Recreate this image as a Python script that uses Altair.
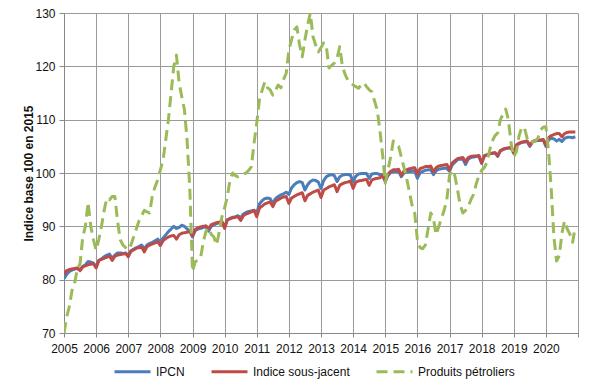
import altair as alt
import pandas as pd

# ---- data (monthly, Jan 2005 .. Dec 2020) ----
series_names = ["IPCN", "Indice sous-jacent", "Produits pétroliers"]
series_colors = ["#4A7EBB", "#BE4B48", "#9BBB59"]
year_ticks = list(range(2005, 2022))
y_ticks = [70, 80, 90, 100, 110, 120, 130]

ipcn = [
    80.2, 81.0, 81.5, 81.8, 82.0, 82.1, 81.8, 82.5, 82.8, 83.4, 83.3, 83.1,  # 2005
    82.4, 83.6, 83.9, 84.3, 84.6, 84.8, 84.0, 84.6, 85.0, 85.0, 84.9, 85.0,  # 2006
    84.6, 85.4, 85.7, 86.0, 86.2, 86.5, 85.8, 86.5, 86.8, 87.0, 87.3, 87.6,  # 2007
    87.1, 87.8, 88.4, 89.0, 89.5, 90.0, 89.6, 89.8, 90.2, 90.0, 89.5, 89.1,  # 2008
    88.0, 89.2, 89.5, 89.6, 89.8, 89.9, 89.1, 90.0, 90.3, 90.5, 90.7, 90.8,  # 2009
    90.0, 91.2, 91.5, 91.7, 91.8, 92.0, 91.6, 92.3, 92.6, 92.8, 92.9, 93.0,  # 2010
    92.5, 94.2, 94.8, 95.2, 95.3, 95.2, 94.3, 95.2, 95.6, 95.9, 96.1, 96.4,  # 2011
    96.0, 97.2, 97.8, 98.2, 98.4, 98.2, 96.8, 97.8, 98.4, 98.7, 98.6, 98.3,  # 2012
    97.1, 98.6, 99.3, 99.6, 99.7, 99.5, 98.4, 99.3, 99.6, 99.7, 99.7, 99.6,  # 2013
    98.4, 99.4, 99.8, 99.9, 99.9, 99.9, 99.0, 99.8, 99.9, 99.9, 99.7, 99.6,  # 2014
    98.4, 99.5, 100.1, 100.3, 100.3, 100.3, 99.3, 100.0, 100.2, 100.3, 100.3, 100.4,  # 2015
    99.0, 100.0, 100.3, 100.5, 100.6, 100.6, 99.7, 100.4, 100.7, 100.8, 100.9, 100.9,  # 2016
    100.3, 101.5, 102.0, 102.5, 102.6, 102.6, 101.6, 102.6, 102.9, 103.0, 103.1, 103.1,  # 2017
    101.8, 103.2, 103.4, 103.6, 103.7, 103.8, 103.1, 104.1, 104.4, 104.6, 104.7, 104.7,  # 2018
    103.7, 105.2, 105.5, 105.7, 105.8, 105.9, 105.0, 105.8, 106.0, 106.1, 106.1, 106.2,  # 2019
    105.0, 106.2, 106.5, 106.4, 106.0, 106.3, 105.9, 106.5, 106.7, 106.7, 106.6, 106.8,  # 2020
]

sous_jacent = [
    81.0, 81.7, 81.9, 82.0, 82.1, 82.2, 81.7, 82.4, 82.6, 82.8, 82.9, 83.0,  # 2005
    82.2, 83.6, 83.8, 84.0, 84.2, 84.4, 83.6, 84.4, 84.6, 84.7, 84.8, 84.9,  # 2006
    84.3, 85.3, 85.6, 85.9, 86.0, 86.1, 85.2, 86.2, 86.5, 86.7, 86.9, 87.1,  # 2007
    86.4, 87.3, 87.7, 88.0, 88.2, 88.3, 87.6, 88.4, 88.7, 88.8, 88.9, 89.0,  # 2008
    88.2, 89.4, 89.7, 89.9, 90.0, 90.1, 89.6, 90.3, 90.5, 90.7, 90.8, 90.9,  # 2009
    89.6, 91.2, 91.4, 91.6, 91.7, 91.8, 91.1, 92.0, 92.3, 92.5, 92.7, 93.0,  # 2010
    91.8, 93.4, 93.8, 94.2, 94.4, 94.6, 93.7, 94.7, 95.0, 95.3, 95.5, 95.6,  # 2011
    94.3, 95.3, 95.6, 95.9, 96.1, 96.3, 94.8, 95.8, 96.1, 96.4, 96.6, 96.8,  # 2012
    95.4, 96.8, 97.1, 97.4, 97.6, 97.8, 96.5, 97.7, 98.0, 98.2, 98.3, 98.5,  # 2013
    97.1, 98.3, 98.5, 98.6, 98.7, 98.8, 97.7, 98.7, 98.9, 99.0, 99.1, 99.5,  # 2014
    98.6, 99.8, 100.3, 100.6, 100.6, 100.7, 99.5, 100.4, 100.6, 100.8, 100.9, 101.0,  # 2015
    99.8, 100.8, 101.0, 101.2, 101.2, 101.3, 100.2, 101.0, 101.3, 101.4, 101.5, 101.6,  # 2016
    100.6, 101.9, 102.3, 102.7, 102.8, 102.9, 102.1, 102.9, 103.1, 103.2, 103.2, 103.3,  # 2017
    101.9, 103.2, 103.4, 103.6, 103.7, 103.8, 103.3, 104.2, 104.5, 104.6, 104.7, 104.8,  # 2018
    103.8, 105.3, 105.6, 105.8, 105.9, 106.0, 105.2, 105.9, 106.1, 106.2, 106.2, 106.3,  # 2019
    105.3, 106.6, 107.0, 107.2, 107.4, 107.4, 106.8, 107.4, 107.6, 107.7, 107.7, 107.7,  # 2020
]

petroliers = [
    70.0, 73.0, 75.0, 78.0, 79.5, 82.0, 83.0, 88.0, 90.0, 94.5, 90.0, 87.5,  # 2005
    85.5, 87.5, 90.0, 93.0, 95.3, 95.0, 95.6, 95.6, 91.0, 87.5, 86.5, 86.0,  # 2006
    85.6, 86.5, 88.0, 89.5, 91.0, 92.0, 93.0, 92.7, 92.5, 95.8, 97.4, 98.7,  # 2007
    100.6, 102.4, 106.2, 110.0, 115.0, 120.0, 122.1, 116.9, 114.3, 111.8, 106.0, 97.0,  # 2008
    81.5, 83.4, 83.6, 84.0, 87.0, 89.0, 89.7, 88.5, 88.0, 86.5, 89.0, 91.8,  # 2009
    93.5, 95.5, 98.7, 100.0, 99.5, 99.3, 99.6, 99.8, 100.0, 100.5, 101.2, 105.6,  # 2010
    109.4, 113.7, 115.5, 117.1, 116.0, 115.6, 114.6, 115.5, 116.5, 116.0, 117.5, 118.7,  # 2011
    123.0, 125.0, 126.8, 127.4, 124.0, 121.8, 125.0, 127.7, 130.0, 125.6, 124.0, 122.7,  # 2012
    123.5, 124.4, 123.7, 119.7, 120.2, 120.6, 121.5, 123.7, 120.0, 118.5, 117.4, 117.0,  # 2013
    116.5, 116.2, 115.9, 116.5, 116.9, 116.2, 115.6, 115.2, 113.5, 111.8, 108.0, 103.5,  # 2014
    98.1, 100.5, 103.0, 106.0, 105.5, 105.0, 103.0, 101.0, 99.0, 96.5, 94.0, 92.5,  # 2015
    87.5, 86.0, 85.8, 86.5, 89.5, 92.5, 91.5, 88.4, 90.0, 91.5, 93.0, 95.0,  # 2016
    99.5, 100.5, 99.5, 96.8, 94.0, 92.5, 93.0, 93.7, 95.0, 96.0, 98.0, 99.5,  # 2017
    100.5, 101.0, 102.0, 104.3, 106.0, 107.0, 107.5, 110.0, 111.0, 112.0, 110.0, 105.6,  # 2018
    103.0, 104.0, 107.0, 108.6, 108.5, 106.5, 105.6, 105.8, 106.0, 106.5, 108.0, 108.6,  # 2019
    108.7, 104.0, 97.0, 88.0, 83.5, 84.5, 88.7, 91.0, 89.5, 88.5, 87.0, 90.0,  # 2020
]

rows = []
for name, vals in zip(series_names, [ipcn, sous_jacent, petroliers]):
    for i, v in enumerate(vals):
        rows.append({"t": 2005 + i / 12.0, "v": v, "serie": name})
df = pd.DataFrame(rows)

FONT = "Liberation Sans"
GRID = "#9a9a9a"

x_enc = alt.X(
    "t:Q",
    scale=alt.Scale(domain=[2005, 2021], nice=False, zero=False),
    axis=alt.Axis(
        values=year_ticks, format="d",
        labelExpr="datum.value >= 2021 ? '' : datum.label",
        title=None, grid=True, gridColor=GRID, gridWidth=1,
        domainColor="#888888", tickColor="#888888", tickSize=4,
        labelPadding=6, labelFontSize=12, labelFont=FONT, labelColor="#111111",
        labelFlush=False, labelOverlap=False,
    ),
)
y_enc = alt.Y(
    "v:Q",
    scale=alt.Scale(domain=[70, 130], nice=False, zero=False),
    axis=alt.Axis(
        values=y_ticks, title="Indice  base 100 en 2015",
        titleFontWeight="bold", titleFontSize=12, titleFont=FONT, titleColor="#111111",
        titleX=-36, titleY=160, titleAngle=270, titleAlign="center", titleBaseline="middle",
        grid=True, gridColor=GRID, gridWidth=1,
        domainColor="#888888", tickColor="#888888", tickSize=5,
        labelPadding=4, labelFontSize=12, labelFont=FONT, labelColor="#111111",
        labelFlush=False,
    ),
)

legend = alt.Legend(
    orient="none", legendX=49, legendY=339, direction="horizontal", title=None,
    symbolType="stroke", symbolSize=1296, symbolStrokeWidth=3,
    labelFontSize=12, labelFont=FONT, labelColor="#111111", labelOffset=4,
    columnPadding=20, padding=0,
)
color_enc = alt.Color(
    "serie:N",
    scale=alt.Scale(domain=series_names, range=series_colors),
    legend=legend,
)
dash_enc = alt.StrokeDash(
    "serie:N",
    scale=alt.Scale(domain=series_names, range=[[1, 0], [1, 0], [11, 6]]),
    legend=legend,
)

base = alt.Chart(df)
layers = [
    base.transform_filter(alt.datum.serie == s)
    .mark_line(strokeWidth=3, clip=True, strokeJoin="round")
    .encode(x=x_enc, y=y_enc, color=color_enc, strokeDash=dash_enc)
    for s in series_names
]

chart = (
    alt.layer(*layers)
    .properties(
        width=514, height=320,
        autosize=alt.AutoSizeParams(type="none"),
        padding={"left": 56, "top": 5, "right": 14, "bottom": 50},
        background="white",
    )
    .configure_view(stroke=None)
)

chart.save("out.html", embed_options={"renderer": "svg", "actions": False})
